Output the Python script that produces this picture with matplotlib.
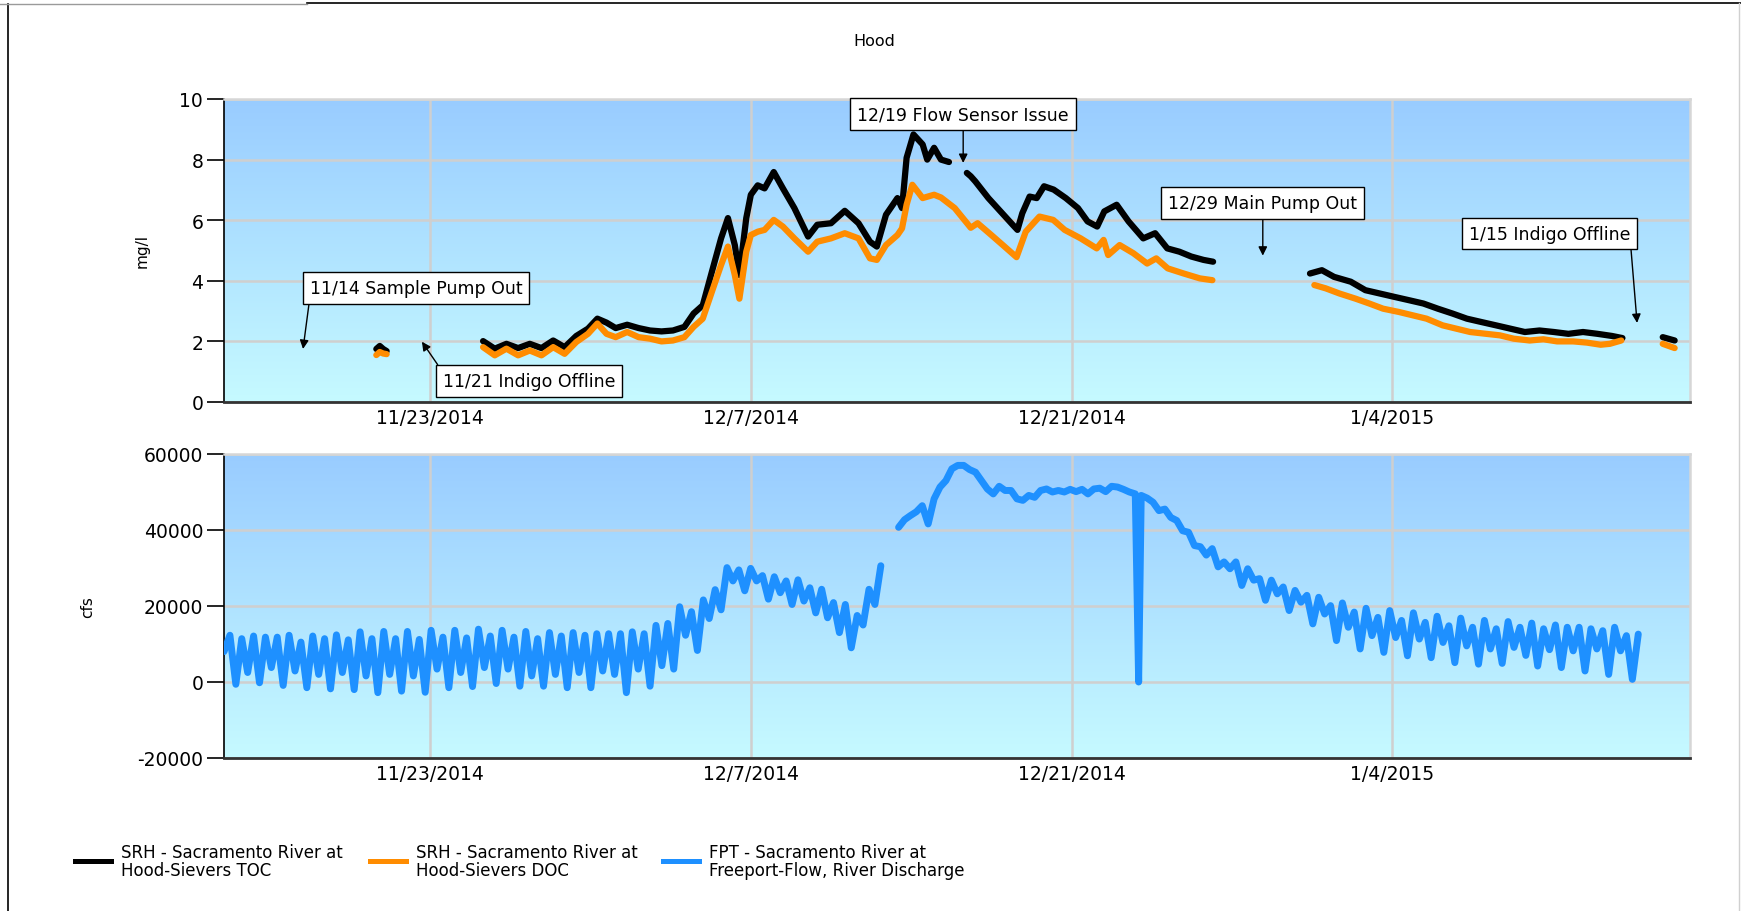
import numpy as np
import pandas as pd
import matplotlib
matplotlib.use('Agg')
import matplotlib.pyplot as plt
import matplotlib.dates as mdates
from matplotlib.lines import Line2D
from matplotlib.colors import LinearSegmentedColormap

plt.rcParams['axes.unicode_minus'] = False
nan = np.nan

# Data (days counted from start_date)
start_date = '2014-11-14'
end_date = '2015-01-17'

toc_days = [6.65, 6.8, 6.95, 7.1, nan,
            11.31, 11.82, 12.33, 12.84, 13.35, 13.86, 14.37, 14.87, 15.38, 15.89,
            16.3, 16.7, 17.1, 17.6, 18.1, 18.6, 19.1, 19.6, 20.1, 20.5,
            20.9, 21.3, 21.7, 22.0, 22.3, 22.5, 22.8, 23.0, 23.3, 23.6,
            24.0, 24.4, 24.9, 25.5, 25.9, 26.5, 27.1, 27.7, 28.2, 28.5,
            28.9, 29.4, 29.6, 29.8, 30.1, 30.5, 30.7, 31.0, 31.3, 31.65, nan,
            32.43, 32.6, 32.8, 33.37, 33.9, 34.43, 34.64, 34.85, 35.17, 35.48,
            35.8, 36.22, 36.75, 37.28, 37.7, 38.12, 38.43, 38.97, 39.49, 40.13,
            40.65, 41.18, 41.71, 42.23, 42.76, 43.18, nan,
            47.41, 47.93, 48.46, 49.19, 49.83, 50.46, 51.09, 51.73, 52.36, 52.99,
            53.63, 54.26, 54.89, 55.53, 56.16, 56.79, 57.43, 58.06, 58.69, 59.33,
            59.96, 60.59, 61.05, nan,
            62.81, 63.33]
toc_mgl = [1.75, 1.85, 1.75, 1.68, nan,
           2.01, 1.76, 1.92, 1.78, 1.92, 1.78, 2.03, 1.81, 2.18, 2.42,
           2.75, 2.62, 2.44, 2.55, 2.44, 2.36, 2.33, 2.36, 2.48, 2.92,
           3.19, 4.30, 5.40, 6.07, 5.18, 4.19, 6.07, 6.84, 7.15, 7.05,
           7.59, 7.05, 6.40, 5.46, 5.85, 5.90, 6.31, 5.90, 5.29, 5.13,
           6.18, 6.73, 6.40, 8.06, 8.83, 8.50, 8.00, 8.39, 8.00, 7.92, nan,
           7.56, 7.45, 7.28, 6.73, 6.29, 5.85, 5.68, 6.23, 6.78, 6.73,
           7.12, 7.01, 6.73, 6.40, 5.96, 5.79, 6.29, 6.51, 5.96, 5.40,
           5.57, 5.07, 4.96, 4.80, 4.69, 4.63, nan,
           4.24, 4.35, 4.13, 3.97, 3.69, 3.58, 3.47, 3.36, 3.25, 3.08,
           2.92, 2.75, 2.64, 2.53, 2.42, 2.31, 2.36, 2.31, 2.25, 2.31,
           2.25, 2.18, 2.11, nan,
           2.14, 2.03]

doc_days = [6.65, 6.8, 6.95, 7.1, nan,
            11.31, 11.82, 12.33, 12.84, 13.35, 13.86, 14.37, 14.87, 15.38, 15.89,
            16.3, 16.7, 17.1, 17.6, 18.1, 18.6, 19.1, 19.6, 20.1, 20.5,
            20.9, 21.3, 21.7, 22.0, 22.3, 22.5, 22.8, 23.0, 23.3, 23.6,
            24.0, 24.4, 24.9, 25.5, 25.9, 26.5, 27.1, 27.7, 28.2, 28.5,
            28.9, 29.4, 29.6, 29.8, 30.05, 30.5, 31.0, 31.3, 31.9, 32.6,
            32.9, 33.5, 34.0, 34.6, 35.0, 35.6, 36.2, 36.7, 37.4, 38.1,
            38.4, 38.6, 39.1, 39.7, 40.3, 40.7, 41.2, 41.9, 42.6, 43.15, nan,
            47.6, 48.1, 48.7, 49.4, 50.0, 50.6, 51.3, 51.9, 52.5, 53.2,
            53.8, 54.4, 55.1, 55.7, 56.3, 57.0, 57.6, 58.2, 58.9, 59.5,
            60.1, 60.5, 61.0, nan,
            62.81, 63.33]
doc_mgl = [1.55, 1.65, 1.60, 1.58, nan,
           1.81, 1.54, 1.76, 1.54, 1.70, 1.54, 1.81, 1.59, 1.98, 2.25,
           2.59, 2.25, 2.14, 2.31, 2.14, 2.09, 2.00, 2.03, 2.14, 2.48,
           2.75, 3.64, 4.52, 5.13, 4.19, 3.41, 4.96, 5.51, 5.62, 5.68,
           6.01, 5.79, 5.40, 4.96, 5.29, 5.40, 5.57, 5.40, 4.74, 4.69,
           5.18, 5.51, 5.73, 6.51, 7.17, 6.73, 6.84, 6.75, 6.40, 5.75,
           5.90, 5.51, 5.18, 4.78, 5.62, 6.12, 6.01, 5.68, 5.40, 5.07,
           5.35, 4.85, 5.18, 4.91, 4.57, 4.74, 4.41, 4.24, 4.08, 4.02, nan,
           3.86, 3.75, 3.58, 3.41, 3.25, 3.08, 2.97, 2.86, 2.75, 2.53,
           2.42, 2.31, 2.25, 2.20, 2.09, 2.03, 2.07, 2.00, 2.00, 1.96,
           1.89, 1.92, 2.03, nan,
           1.92, 1.78]

# Freeport flow, one reading every 6.2 h from flow_start (nan = no data)
flow_start = '2014-11-14 00:00'
flow_step_hours = 6.2
flow_cfs = [8000, 12300, -600, 11400, 2500, 12100, -200, 11800,
            3800, 11800, -900, 12300, 2900, 10500, -1500, 12100,
            2000, 11400, -1800, 12400, 2500, 11100, -2000, 13200,
            1600, 11400, -2800, 13300, 2000, 11400, -2400, 13300,
            1600, 11200, -2700, 13600, 3400, 11800, -1500, 13600,
            2500, 11600, -1200, 13900, 3800, 12100, -400, 13600,
            3400, 11800, -1100, 13300, 1600, 11400, -1100, 13000,
            2000, 12100, -1500, 13000, 2500, 12300, -1500, 12700,
            2900, 12700, 2000, 12700, -2800, 13200, 3400, 12700,
            -1100, 14900, 4300, 15400, 3400, 19800, 12300, 18500,
            8300, 21600, 16700, 24300, 19000, 30100, 26600, 29500,
            24000, 29900, 26600, 28000, 21800, 27700, 23500, 26600,
            20400, 26900, 21300, 24800, 18200, 24400, 16900, 20900,
            13000, 20400, 9000, 17500, 15000, 24400, 20400, 30600,
            nan, nan, 40700, 42700,
            43800, 44800, 46400, 41600, 48200, 51300, 53000, 56100,
            57000, 57000, 55900, 55200, 53000, 50800, 49500, 51500,
            50400, 50400, 48200, 47800, 49100, 48600, 50400, 50800,
            50000, 50400, 50000, 50700, 50100, 50700, 49500, 50800,
            51000, 50100, 51500, 51300, 50700, 50000, 49500, 49100,
            48400, 47300, 45100, 45500, 43300, 42500, 39800, 39400,
            35900, 35600, 33400, 35100, 30300, 31600, 29800, 31600,
            25400, 29800, 26800, 27200, 21500, 26800, 23200, 25000,
            18800, 24100, 21000, 22800, 15300, 22300, 17900, 20100,
            10900, 20800, 14400, 18400, 8700, 19400, 12200, 17000,
            7800, 18800, 11700, 16200, 6900, 18200, 11300, 15700,
            6400, 17300, 10400, 14800, 5100, 16800, 9500, 14400,
            4700, 16200, 8700, 14000, 4900, 15900, 9100, 14400,
            7000, 15500, 4200, 14000, 8500, 15000, 3800, 14400,
            8200, 14400, 2900, 14000, 8700, 13500, 2000, 14400,
            8200, 12200, 700, 12600]
flow_dropout_day = 39.93
flow_dropout_cfs = 0

tick_dates = ['2014-11-23', '2014-12-07', '2014-12-21', '2015-01-04']
tick_labels = ['11/23/2014', '12/7/2014', '12/21/2014', '1/4/2015']

series_names = ['SRH - Sacramento River at\nHood-Sievers TOC',
                'SRH - Sacramento River at\nHood-Sievers DOC',
                'FPT - Sacramento River at\nFreeport-Flow, River Discharge']
series_colors = ['#000000', '#FF8C00', '#1E90FF']

notes = ['11/14 Sample Pump Out', '11/21 Indigo Offline',
         '12/19 Flow Sensor Issue', '12/29 Main Pump Out', '1/15 Indigo Offline']

# ---- figure ----
W, H = 1741, 912
fig = plt.figure(figsize=(W / 100, H / 100), dpi=100)


def px_axes(left, top, right, bottom):
    return fig.add_axes([left / W, 1 - bottom / H, (right - left) / W, (bottom - top) / H])


ax1 = px_axes(224, 100, 1690, 403)
ax2 = px_axes(224, 455, 1690, 759)

t0 = mdates.date2num(pd.Timestamp(start_date))
t1 = mdates.date2num(pd.Timestamp(end_date))

bg = LinearSegmentedColormap.from_list('bg', ['#c6faff', '#99ccff'])
grad = np.linspace(0, 1, 256).reshape(-1, 1)

for ax in (ax1, ax2):
    ax.imshow(grad, cmap=bg, origin='lower', extent=[0, 1, 0, 1],
              transform=ax.transAxes, aspect='auto', zorder=0)
    ax.set_axisbelow(True)
    ax.grid(True, color='#cfcfcf', lw=1.8)
    ax.spines['left'].set_color('black')
    ax.spines['left'].set_linewidth(1.2)
    ax.spines['bottom'].set_color('#333333')
    ax.spines['bottom'].set_linewidth(2)
    for s in ('top', 'right'):
        ax.spines[s].set_color('#d6d6d6')
        ax.spines[s].set_linewidth(1.8)
    ax.set_xticks([mdates.date2num(pd.Timestamp(d)) for d in tick_dates])
    ax.set_xticklabels(tick_labels)
    ax.tick_params(axis='x', length=0, pad=4, labelsize=13.5)
    ax.tick_params(axis='y', direction='out', length=12, width=1.2, pad=3, labelsize=13.5)

# top panel: TOC / DOC
ax1.plot(t0 + np.array(toc_days), toc_mgl, color=series_colors[0], lw=4.5,
         solid_joinstyle='round', solid_capstyle='round', zorder=3)
ax1.plot(t0 + np.array(doc_days), doc_mgl, color=series_colors[1], lw=4.5,
         solid_joinstyle='round', solid_capstyle='round', zorder=3)
ax1.set_ylim(0, 10)
ax1.set_yticks(range(0, 11, 2))
ax1.set_xlim(t0, t1)
ax1.set_ylabel('mg/l', fontsize=11)
ax1.yaxis.set_label_coords(-0.051, 0.5)

# bottom panel: flow
flow_x = mdates.date2num(pd.Timestamp(flow_start)) + np.arange(len(flow_cfs)) * flow_step_hours / 24
fx = np.append(flow_x, t0 + flow_dropout_day)
fy = np.append(np.array(flow_cfs, dtype=float), flow_dropout_cfs)
order = np.argsort(fx)
ax2.plot(fx[order], fy[order], color=series_colors[2], lw=5,
         solid_joinstyle='round', solid_capstyle='round', zorder=3)
ax2.set_ylim(-20000, 60000)
ax2.set_yticks(range(-20000, 60001, 20000))
ax2.set_xlim(t0, t1)
ax2.set_ylabel('cfs', fontsize=11)
ax2.yaxis.set_label_coords(-0.088, 0.5)

# annotations
box = dict(boxstyle='square,pad=0.4', fc='white', ec='black', lw=1)


def note(text, xy, xytext, ha, relpos):
    ax1.annotate(text, xy=(t0 + xy[0], xy[1]), xytext=(t0 + xytext[0], xytext[1]),
                 ha=ha, va='center', fontsize=12.5, bbox=box, zorder=5,
                 arrowprops=dict(arrowstyle='-|>', color='black', lw=1,
                                 shrinkA=0, shrinkB=0, mutation_scale=13, relpos=relpos))


note(notes[0], (3.45, 1.75), (3.75, 3.76), 'left', (0, 0))
note(notes[1], (8.64, 1.99), (9.55, 0.69), 'left', (0, 1))
note(notes[2], (32.27, 7.89), (32.27, 9.5), 'center', (0.5, 0))
note(notes[3], (45.35, 4.83), (45.35, 6.57), 'center', (0.5, 0))
note(notes[4], (61.69, 2.61), (61.4, 5.56), 'right', (1, 0))

# title
fig.text(874 / W, 1 - 41 / H, 'Hood', ha='center', va='center', fontsize=11.5)

# legend
for x0, name, col in zip([75, 370, 663], series_names, series_colors):
    fig.add_artist(Line2D([x0 / W, (x0 + 36) / W], [1 - 862 / H] * 2, color=col, lw=3.6))
    fig.text((x0 + 46) / W, 1 - 862 / H, name, ha='left', va='center',
             fontsize=12, linespacing=1.0)

# outer frame
fig.add_artist(Line2D([8 / W, 8 / W], [0, 1 - 5 / H], color='black', lw=1.2))
fig.add_artist(Line2D([307 / W, 1], [1 - 4 / H] * 2, color='black', lw=1.2))
fig.add_artist(Line2D([0, 307 / W], [1 - 5 / H] * 2, color='#9a9a9a', lw=1))
fig.add_artist(Line2D([1739 / W] * 2, [0, 1 - 4 / H], color='#d0d0d0', lw=1))

fig.savefig('out.png', dpi=100)
